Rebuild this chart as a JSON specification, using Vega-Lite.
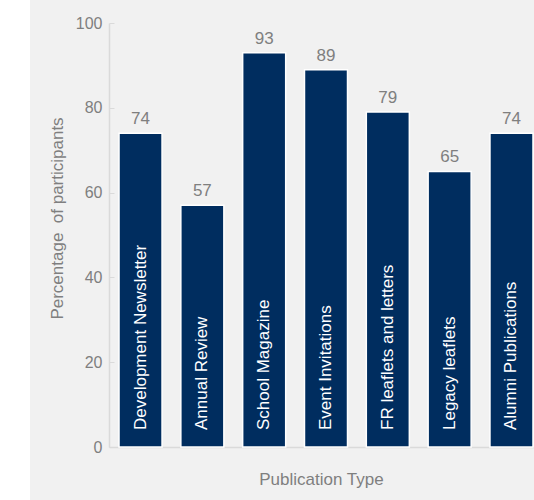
{
  "$schema": "https://vega.github.io/schema/vega-lite/v6.json",
  "width": 504,
  "height": 500,
  "autosize": {"type": "none"},
  "padding": {"left": 30, "top": 0, "right": 0, "bottom": 0},
  "background": "white",
  "view": {"fill": "#f1f1f1", "stroke": null},
  "config": {"font": "Liberation Sans"},
  "data": {
    "values": [
      {"type": "Development Newsletter", "pct": 74},
      {"type": "Annual Review", "pct": 57},
      {"type": "School Magazine", "pct": 93},
      {"type": "Event Invitations", "pct": 89},
      {"type": "FR leaflets and letters", "pct": 79},
      {"type": "Legacy leaflets", "pct": 65},
      {"type": "Alumni Publications", "pct": 74}
    ]
  },
  "encoding": {
    "x": {
      "field": "type",
      "type": "nominal",
      "sort": null,
      "scale": {"range": [79, 513], "paddingInner": 0.304, "paddingOuter": 0.162},
      "axis": {
        "title": "Publication Type",
        "labels": false,
        "ticks": false,
        "offset": -53,
        "domainColor": "#dadada",
        "domainWidth": 1.5,
        "titleColor": "#7f7f7f",
        "titleFontSize": 17,
        "titleFontWeight": "normal",
        "titlePadding": 24,
        "titleX": 291
      }
    },
    "y": {
      "field": "pct",
      "type": "quantitative",
      "scale": {"domain": [0, 100], "range": [447, 23], "nice": false},
      "axis": {
        "title": "Percentage\u00a0\u00a0of participants",
        "values": [0, 20, 40, 60, 80, 100],
        "grid": false,
        "offset": -79,
        "tickSize": -5,
        "tickColor": "#dadada",
        "domainColor": "#dadada",
        "domainWidth": 1.5,
        "labelPadding": 12,
        "labelColor": "#7f7f7f",
        "labelFontSize": 16,
        "titleColor": "#7f7f7f",
        "titleFontSize": 17,
        "titleFontWeight": "normal",
        "titleX": -52,
        "titleY": 218,
        "titleBaseline": "middle"
      }
    }
  },
  "layer": [
    {
      "mark": {"type": "bar", "color": "#002d5f", "stroke": "white", "strokeWidth": 1.5}
    },
    {
      "mark": {"type": "text", "baseline": "alphabetic", "dy": -9, "fontSize": 17, "color": "#7f7f7f"},
      "encoding": {"text": {"field": "pct", "type": "quantitative"}}
    },
    {
      "mark": {"type": "text", "angle": 270, "align": "left", "baseline": "middle", "dx": 17, "fontSize": 17, "color": "white"},
      "encoding": {
        "y": {"datum": 0},
        "text": {"field": "type", "type": "nominal"}
      }
    }
  ]
}
